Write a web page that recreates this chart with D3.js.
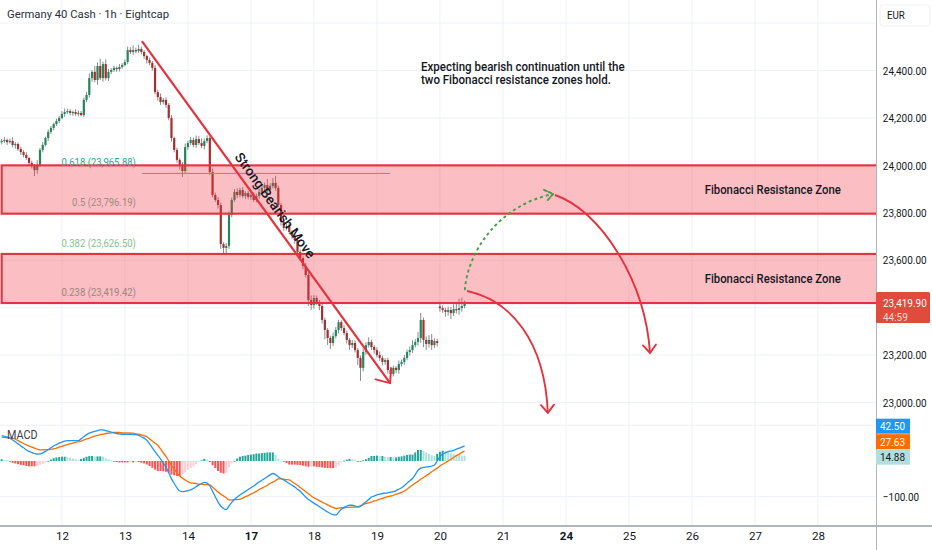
<!DOCTYPE html>
<html>
<head>
<meta charset="utf-8">
<script src="https://cdn.jsdelivr.net/npm/d3@7"></script>
<style>
  body { margin: 0; background: #fff; }
  svg { display: block; font-family: Roboto, "Noto Sans", sans-serif; }
</style>
</head>
<body>
<svg id="chart" width="932" height="550"></svg>
<script>
// ---- data ----
var title = "Germany 40 Cash \u00b7 1h \u00b7 Eightcap";
var currency = "EUR";
var countdown = "44:59";

// hourly closes, 11th (partial) .. 20th
var closes = [
  24103,24107,24098,24103,24086,24090,24069,24056,24044,24031,
  24010,23997,23980,24002,24065,24086,24115,24141,24158,24174,
  24187,24200,24217,24225,24229,24221,24225,24217,24221,24212,
  24276,24297,24368,24394,24360,24419,24368,24427,24368,24394,
  24402,24411,24406,24415,24423,24436,24486,24478,24486,24482,
  24491,24478,24461,24444,24432,24411,24309,24288,24267,24276,
  24255,24200,24115,24065,24023,24002,23976,24077,24094,24107,
  24086,24111,24094,24082,24103,24115,23972,23875,23854,23833,
  23668,23652,23660,23791,23854,23888,23875,23896,23871,23883,
  23867,23875,23854,23871,23888,23905,23917,23896,23913,23926,
  23905,23833,23761,23736,23744,23719,23702,23685,23635,23609,
  23576,23538,23432,23411,23441,23424,23407,23348,23306,23272,
  23251,23280,23306,23339,23314,23293,23264,23242,23251,23221,
  23188,23146,23213,23242,23255,23234,23221,23200,23188,23171,
  23179,23137,23120,23146,23137,23162,23171,23188,23213,23221,
  23242,23255,23272,23348,23264,23247,23264,23242,23259,23251,
  23398,23390,23382,23390,23377,23394,23390,23398,23407,23419.9
];
var firstOpen = 24098;
var gapOpens = { 160: 23405 };

// wick length above / below the body, in points
var hiExt = [
  8,12,6,10,15,8,6,10,8,12,  6,10,8,20,8,12,6,10,8,6,
  10,8,12,15,10,8,6,12,10,8,  10,12,20,8,25,15,30,10,20,12,
  8,10,6,12,8,10,15,12,20,10,  18,10,8,6,10,8,12,10,15,8,
  10,8,12,6,10,8,12,15,10,12,  10,15,12,20,10,12,8,15,10,12,
  10,8,12,15,10,12,15,10,12,8,  10,8,12,10,15,12,10,25,12,20,
  30,10,8,12,10,15,8,10,12,10,  8,12,10,20,12,10,8,12,10,8,
  10,15,12,10,8,12,10,8,12,10,  8,10,15,12,20,10,8,12,15,10,
  8,10,12,10,8,15,10,12,10,15,  20,12,25,30,10,15,20,25,12,10,
  20,12,10,15,12,20,25,40,35,10
];
var loExt = [
  10,8,12,6,10,15,8,12,10,8,  12,10,25,15,8,10,6,12,8,10,
  8,10,6,12,8,10,12,8,10,6,  8,10,12,15,10,20,8,15,10,12,
  10,8,12,10,8,6,10,8,12,10,  8,10,12,15,10,12,10,15,12,10,
  12,10,15,10,12,20,25,10,12,8,  10,12,8,10,15,10,12,10,8,15,
  20,25,30,12,10,8,12,10,8,12,  10,12,8,10,12,8,10,12,8,10,
  12,10,15,12,10,8,12,15,10,12,  15,12,25,20,15,12,18,15,40,30,
  25,12,10,15,12,10,15,20,12,10,  30,55,15,12,10,12,15,10,12,15,
  12,15,25,10,12,15,10,12,10,15,  12,10,15,20,30,25,15,20,12,15,
  15,12,20,15,25,12,15,20,15,10
];

var macdLine = [
  71,69,67,64,59,54,48,42,37,31,  27,24,21,19,20,23,27,32,37,42,
  46,50,53,56,57,57,57,57,57,62,  68,74,78,81,83,85,87,87,85,83,
  81,79,77,76,75,75,75,75,74,74,  72,68,64,58,48,37,26,16,6,-6,
  -17,-33,-50,-63,-75,-84,-86,-85,-83,-81,  -77,-72,-67,-63,-60,-62,-70,-85,-100,-115,
  -126,-133,-136,-126,-116,-108,-101,-95,-90,-85,  -80,-75,-70,-64,-59,-54,-49,-44,-39,-35,
  -38,-44,-49,-53,-58,-63,-68,-73,-79,-85,  -93,-101,-108,-113,-118,-123,-128,-133,-138,-143,
  -147,-150,-151,-144,-135,-130,-126,-124,-124,-126,  -129,-127,-120,-114,-108,-101,-98,-95,-93,-91,
  -90,-89,-87,-86,-83,-79,-75,-69,-62,-55,  -49,-38,-26,-20,-18,-17,-16,-14,-11,0,
  12,20,23,26,28,30,33,36,39,42.504
];
var signalLine = [
  66,66,65,65,64,61,57,53,49,45,  42,39,36,33,31,31,32,32,33,34,
  36,39,41,44,46,48,50,52,54,56,  59,62,64,67,70,72,74,75,77,78,
  79,80,80,80,79,79,79,78,78,76,  75,73,71,68,62,56,50,44,34,23,
  13,0,-12,-23,-33,-42,-48,-53,-58,-61,  -62,-63,-65,-65,-66,-66,-67,-73,-80,-87,
  -93,-98,-103,-109,-109,-108,-108,-107,-104,-100,  -97,-93,-89,-85,-80,-76,-72,-68,-63,-59,
  -55,-50,-50,-51,-52,-53,-58,-63,-68,-74,  -80,-86,-92,-98,-103,-107,-111,-115,-119,-123,
  -127,-130,-133,-132,-131,-131,-130,-130,-129,-129,  -128,-125,-122,-119,-117,-115,-112,-110,-107,-105,
  -102,-100,-98,-96,-93,-91,-88,-84,-79,-73,  -67,-62,-57,-51,-46,-41,-36,-30,-25,-20,
  -14,-9,-5,0,5,10,15,19,24,27.626
];

// time axis: bar index of each day's first bar
var dayIdx = [22,45,68,91,114,137,160,183,206,229,252,275,298];
var dayLabels = ["12","13","14","17","18","19","20","21","24","25","26","27","28"];
var boldDays = ["17","24"];

var priceGrid = [24600,24400,24200,24000,23800,23600,23400,23200,23000];
var priceLabels = [24400,24200,24000,23800,23600,23200,23000];
var macdGrid = [100,-100];
var macdLabels = [-100];

// fibonacci drawing
var fibLevels = ["0.618","0.5","0.382","0.238"];
var fibPrices = [23965.88,23796.19,23626.50,23419.42];
var fibColors = ["#2aa597","#9b8a80","#86c28a","#9c8580"];
var fibStart = 51.2, fibEnd = 141.8;
var zoneTops = [24000, 23626.50];
var zoneBottoms = [23796.19, 23419.42];
var zoneLabel = "Fibonacci Resistance Zone";
var zoneLabelAt = 281.5;

// hand drawn annotations in (bar, price)
var bearLine = [[51.2, 24524], [141.8, 23082]];
var bearText = "Strong Bearish Move";
var greenArc = [[169.1,23474],[170.2,23643],[181.9,23833],[201.3,23879]];
var redArcTop = [[202.0,23875],[218.4,23812],[234.9,23517],[236.7,23209]];
var redArcLow = [[169.9,23470],[185.6,23432],[198.3,23264],[199.4,22956]];
var noteLines = ["Expecting bearish continuation until the", "two Fibonacci resistance zones hold."];
var noteAt = [153.1, 24415];

// ---- layout ----
var W = 932, axisX = 876, paneSplit = 414, bottomY = 525;
var upCol = "#25855b", downCol = "#a52f2c", wickCol = "#858a94";
var zoneRed = "#e5323f";

var x = d3.scaleLinear().domain([-0.6, 319.2]).range([0, axisX]);
var y = d3.scaleLinear().domain([23000, 24400]).range([402.5, 70.5]);
var ym = d3.scaleLinear().domain([-100, 100]).range([496.7, 425.3]);
var fmt = d3.format(",.2f");

var svg = d3.select("#chart");

function txt(g, px, py, s, o) {
  return g.append("text")
    .attr("transform", "translate(" + px + "," + py + ") scale(" + (o.sx || 1) + ",1)")
    .attr("font-size", o.size)
    .attr("font-weight", o.weight || 400)
    .attr("fill", o.fill || "#131722")
    .attr("text-anchor", o.anchor || "start")
    .attr("dy", "0.35em")
    .text(s);
}

var defs = svg.append("defs");
defs.append("clipPath").attr("id", "clipPrice")
  .append("rect").attr("x", 0).attr("y", 0).attr("width", axisX).attr("height", paneSplit);
defs.append("clipPath").attr("id", "clipMacd")
  .append("rect").attr("x", 0).attr("y", paneSplit).attr("width", axisX).attr("height", bottomY - paneSplit);

function arrowMarker(id, col, len, half, dash) {
  var m = defs.append("marker").attr("id", id)
    .attr("viewBox", (-len - 3) + " " + (-half - 3) + " " + (len + 6) + " " + (2 * half + 6))
    .attr("refX", 0).attr("refY", 0)
    .attr("markerWidth", len + 6).attr("markerHeight", 2 * half + 6)
    .attr("markerUnits", "userSpaceOnUse").attr("orient", "auto");
  m.append("path").attr("d", "M" + (-len) + "," + (-half) + "L0,0L" + (-len) + "," + half)
    .attr("fill", "none").attr("stroke", col).attr("stroke-width", 1.9)
    .attr("stroke-linecap", "round").attr("stroke-dasharray", dash || null);
}
arrowMarker("arrBig", zoneRed, 11.5, 9.6);
arrowMarker("arrRed", zoneRed, 8, 6.5);
arrowMarker("arrGreen", "#43a047", 8, 6, "3,2");

// ---- grid ----
var grid = svg.append("g");
grid.selectAll("line.hp").data(priceGrid).enter().append("line")
  .attr("x1", 0).attr("x2", axisX).attr("y1", d => y(d)).attr("y2", d => y(d))
  .attr("stroke", "#eef1f7");
grid.selectAll("line.hm").data(macdGrid).enter().append("line")
  .attr("x1", 0).attr("x2", axisX).attr("y1", d => ym(d)).attr("y2", d => ym(d))
  .attr("stroke", "#eef1f7");
grid.selectAll("line.v").data(dayIdx).enter().append("line")
  .attr("x1", d => x(d)).attr("x2", d => x(d)).attr("y1", 0).attr("y2", bottomY)
  .attr("stroke", "#eef1f7");

// ---- candles ----
var bars = closes.map(function (c, i) {
  var o = i === 0 ? firstOpen : (gapOpens[i] !== undefined ? gapOpens[i] : closes[i - 1]);
  return { i: i, o: o, c: c, h: Math.max(o, c) + hiExt[i], l: Math.min(o, c) - loExt[i] };
});

var price = svg.append("g").attr("clip-path", "url(#clipPrice)");
var candle = price.selectAll("g.candle").data(bars).enter().append("g");
candle.append("line")
  .attr("x1", d => x(d.i)).attr("x2", d => x(d.i))
  .attr("y1", d => y(d.h)).attr("y2", d => y(d.l))
  .attr("stroke", wickCol).attr("stroke-width", 1);
candle.append("rect")
  .attr("x", d => x(d.i) - 1.1).attr("width", 2.2)
  .attr("y", d => y(Math.max(d.o, d.c)))
  .attr("height", d => Math.max(1.2, Math.abs(y(d.o) - y(d.c))))
  .attr("fill", d => d.c >= d.o ? upCol : downCol);

// ---- resistance zones ----
var zones = d3.range(zoneTops.length).map(k => ({ top: zoneTops[k], bot: zoneBottoms[k] }));
price.selectAll("rect.zone").data(zones).enter().append("rect")
  .attr("x", x(0)).attr("width", axisX - x(0) + 2)
  .attr("y", d => y(d.top)).attr("height", d => y(d.bot) - y(d.top))
  .attr("fill", "rgba(242,54,69,0.32)").attr("stroke", zoneRed).attr("stroke-width", 2.1);
zones.forEach(function (z) {
  txt(svg, x(zoneLabelAt), (y(z.top) + y(z.bot)) / 2, zoneLabel,
      { size: 13.5, weight: 500, anchor: "middle", sx: 0.84 });
});

// fib level line and labels
price.append("line")
  .attr("x1", x(fibStart)).attr("x2", x(fibEnd))
  .attr("y1", y(fibPrices[0])).attr("y2", y(fibPrices[0]))
  .attr("stroke", "#8a8d96").attr("stroke-width", 1);
fibLevels.forEach(function (lv, k) {
  txt(svg, x(fibStart) - 6, y(fibPrices[k]) - 11, lv + " (" + fmt(fibPrices[k]) + ")",
      { size: 10.8, fill: fibColors[k], anchor: "end", sx: 0.88 });
});

// ---- annotations ----
var ann = svg.append("g").attr("clip-path", "url(#clipPrice)");
var b0 = [x(bearLine[0][0]), y(bearLine[0][1])], b1 = [x(bearLine[1][0]), y(bearLine[1][1])];
ann.append("line")
  .attr("x1", b0[0]).attr("y1", b0[1]).attr("x2", b1[0]).attr("y2", b1[1])
  .attr("stroke", zoneRed).attr("stroke-width", 2.2).attr("marker-end", "url(#arrBig)");
var ang = Math.atan2(b1[1] - b0[1], b1[0] - b0[0]) * 180 / Math.PI;
var tx = b0[0] + (b1[0] - b0[0]) * 0.5, ty = b0[1] + (b1[1] - b0[1]) * 0.5;
svg.append("text")
  .attr("transform", "translate(" + tx + "," + ty + ") rotate(" + ang + ")")
  .attr("y", -6.5).attr("text-anchor", "middle")
  .attr("font-size", 13.6).attr("font-weight", 500).attr("fill", "#131722")
  .text(bearText);

function arcPath(pts) {
  var p = d3.path(), s = pts.map(d => [x(d[0]), y(d[1])]);
  p.moveTo(s[0][0], s[0][1]);
  p.bezierCurveTo(s[1][0], s[1][1], s[2][0], s[2][1], s[3][0], s[3][1]);
  return p.toString();
}
ann.append("path").attr("d", arcPath(greenArc))
  .attr("fill", "none").attr("stroke", "#43a047").attr("stroke-width", 1.9)
  .attr("stroke-dasharray", "3,3").attr("marker-end", "url(#arrGreen)");
ann.append("path").attr("d", arcPath(redArcTop))
  .attr("fill", "none").attr("stroke", zoneRed).attr("stroke-width", 1.9)
  .attr("marker-end", "url(#arrRed)");
ann.append("path").attr("d", arcPath(redArcLow))
  .attr("fill", "none").attr("stroke", zoneRed).attr("stroke-width", 1.9)
  .attr("marker-end", "url(#arrRed)");

noteLines.forEach(function (s, k) {
  txt(svg, x(noteAt[0]), y(noteAt[1]) + k * 13, s, { size: 12, weight: 500, sx: 0.96 });
});

// ---- MACD pane ----
var macd = svg.append("g").attr("clip-path", "url(#clipMacd)");
var hist = macdLine.map((m, i) => m - signalLine[i]);
macd.selectAll("rect.h").data(hist).enter().append("rect")
  .attr("x", (d, i) => x(i) - 1).attr("width", 2)
  .attr("y", d => Math.min(ym(d), ym(0)))
  .attr("height", d => Math.max(0.8, Math.abs(ym(d) - ym(0))))
  .attr("fill", function (d, i) {
    var prev = i > 0 ? hist[i - 1] : d;
    if (d >= 0) return d >= prev ? "#26a69a" : "#b2dfdb";
    return d <= prev ? "#ff5252" : "#ffcdd2";
  });
var lineGen = d3.line().x((d, i) => x(i)).y(d => ym(d)).curve(d3.curveMonotoneX);
macd.append("path").datum(signalLine).attr("d", lineGen)
  .attr("fill", "none").attr("stroke", "#ff6d00").attr("stroke-width", 1.3);
macd.append("path").datum(macdLine).attr("d", lineGen)
  .attr("fill", "none").attr("stroke", "#2196f3").attr("stroke-width", 1.3);
txt(svg, 7, 435, "MACD", { size: 12, fill: "#3c404b", sx: 0.9 });

// ---- frame ----
svg.append("line").attr("x1", axisX + 0.5).attr("x2", axisX + 0.5).attr("y1", 0).attr("y2", 550)
  .attr("stroke", "#b2b5be");
svg.append("line").attr("x1", 0).attr("x2", W).attr("y1", bottomY + 1).attr("y2", bottomY + 1)
  .attr("stroke", "#b2b5be").attr("stroke-width", 2);

// ---- axes ----
var ax = svg.append("g").attr("transform", "translate(" + axisX + ",0)")
  .call(d3.axisRight(y).tickValues(priceLabels).tickFormat(fmt).tickSize(0).tickPadding(8));
var axm = svg.append("g").attr("transform", "translate(" + axisX + ",0)")
  .call(d3.axisRight(ym).tickValues(macdLabels).tickFormat(fmt).tickSize(0).tickPadding(8));
var axb = svg.append("g").attr("transform", "translate(0," + (bottomY + 1) + ")")
  .call(d3.axisBottom(x).tickValues(dayIdx).tickFormat((d, i) => dayLabels[i]).tickSize(0).tickPadding(6));
[ax, axm, axb].forEach(function (g) {
  g.select(".domain").remove();
  g.attr("font-family", "Roboto, 'Noto Sans', sans-serif").attr("font-size", 11.6);
  g.selectAll("text").attr("fill", "#131722").attr("transform", "scale(0.86,1)");
});
axb.selectAll("text").attr("transform", null)
  .attr("font-weight", d => boldDays.indexOf(dayLabels[dayIdx.indexOf(d)]) >= 0 ? 700 : 400);

// currency box
svg.append("rect").attr("x", axisX + 4).attr("y", 5).attr("width", 50).attr("height", 21).attr("rx", 3)
  .attr("fill", "#fff").attr("stroke", "#eef0f4");
txt(svg, axisX + 11, 15.5, currency, { size: 11.3, sx: 0.86 });

// last price tag
var last = closes[closes.length - 1], ly = y(last);
svg.append("rect").attr("x", axisX).attr("y", ly - 11).attr("width", 54).attr("height", 31)
  .attr("fill", "#e04b3e").attr("rx", 1.5);
txt(svg, axisX + 7, ly, fmt(last), { size: 11.6, fill: "#fff", sx: 0.86 });
txt(svg, axisX + 7, ly + 14, countdown, { size: 11.6, fill: "#ffd6d0", sx: 0.86 });

// MACD value tags, stacked from the lowest one upward
var n = macdLine.length - 1;
var tags = [
  { v: macdLine[n], bg: "#2196f3", fg: "#fff" },
  { v: signalLine[n], bg: "#ff6d00", fg: "#fff" },
  { v: hist[n], bg: "#b2dfdb", fg: "#131722" }
].sort((a, b) => a.v - b.v);
var prevY = null;
tags.forEach(function (t) {
  var cy = prevY === null ? ym(t.v) + 1.5 : Math.min(ym(t.v), prevY - 15.5);
  prevY = cy;
  svg.append("rect").attr("x", axisX).attr("y", cy - 7.5).attr("width", 34).attr("height", 15)
    .attr("fill", t.bg);
  txt(svg, axisX + 4, cy, fmt(t.v), { size: 11.6, fill: t.fg, sx: 0.86 });
});

// title
txt(svg, 7, 14, title, { size: 11.5, fill: "#2a2e39", sx: 0.98 });
</script>
</body>
</html>
